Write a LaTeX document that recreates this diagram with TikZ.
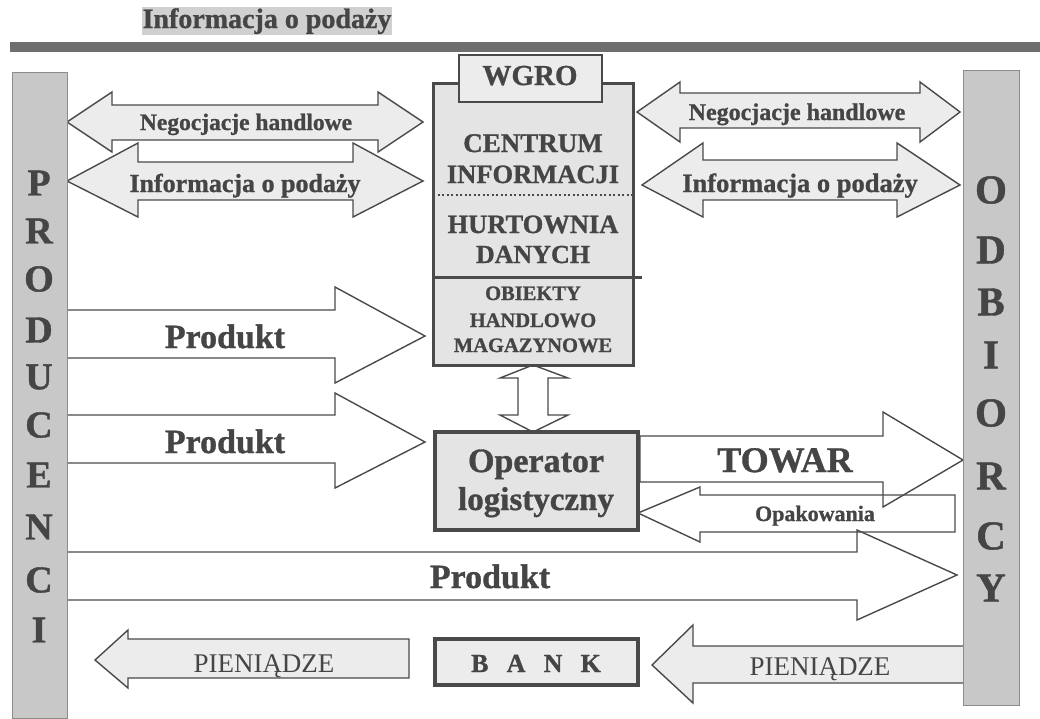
\documentclass[tikz,border=0pt]{standalone}
\usepackage{fontspec}
\setmainfont{Liberation Serif}[BoldFeatures={FakeBold=1}]
\definecolor{linec}{HTML}{4A4A4A}
\definecolor{txt}{HTML}{454545}
\definecolor{barfill}{HTML}{C8C8C8}
\definecolor{barline}{HTML}{8C8C8C}
\definecolor{arrfill}{HTML}{ECECEC}
\definecolor{boxfill}{HTML}{E4E4E4}
\definecolor{titlebg}{HTML}{D0D0D0}
\definecolor{topbarc}{HTML}{6E6E6E}
\tikzset{
 fs/.style={font=\fontsize{#1}{#1}\selectfont\bfseries},
 fsr/.style={font=\fontsize{#1}{#1}\selectfont},
 lbl/.style={text=txt, anchor=base, inner sep=0pt, outer sep=0pt},
 blk/.style={draw=linec, line width=1.4pt, line join=miter, miter limit=10},
 grayarr/.style={blk, fill=arrfill},
 bar/.style={draw=barline, fill=barfill, line width=1pt, inner sep=0pt, outer sep=0pt, anchor=north west},
 boxst/.style={draw=linec, fill=boxfill, inner sep=0pt, outer sep=0pt, anchor=north west},
 barletter/.style={text=txt, inner sep=0pt},
}
\begin{document}
\begin{tikzpicture}[x=1pt,y=-1pt]
\useasboundingbox (0,0) rectangle (1040,718);
% title and rule
\node[fill=titlebg, text=txt, fs=28, inner xsep=1pt, inner ysep=1pt, anchor=base] (title) at (267,28) {Informacja o podaży};
\node[fill=topbarc, anchor=north west, minimum width=1030pt, minimum height=10pt, inner sep=0pt] (rule) at (10,42) {};

% top-left double arrows
\draw[grayarr] (67,122) -- (112,92) -- (112,105) -- (378,105) -- (378,92) -- (423,122) -- (378,152) -- (378,140) -- (112,140) -- (112,152) -- cycle;
\draw[grayarr] (67,181) -- (138,143) -- (138,162) -- (353,162) -- (353,143) -- (423,181) -- (353,217) -- (353,200) -- (138,200) -- (138,217) -- cycle;
% top-right double arrows
\draw[grayarr] (637,112) -- (680,82) -- (680,93) -- (920,93) -- (920,82) -- (960,112) -- (920,142) -- (920,128) -- (680,128) -- (680,142) -- cycle;
\draw[grayarr] (642,185) -- (703,143) -- (703,160) -- (897,160) -- (897,143) -- (960,185) -- (897,217) -- (897,200) -- (703,200) -- (703,217) -- cycle;

% Produkt arrows to centre
\draw[blk, fill=white] (67,310) -- (335,310) -- (335,287) -- (425,336) -- (335,383) -- (335,358) -- (67,358) -- cycle;
\draw[blk, fill=white] (67,415) -- (335,415) -- (335,393) -- (425,442) -- (335,488) -- (335,463) -- (67,463) -- cycle;

% vertical double arrow
\draw[blk, fill=white] (533,365) -- (568,378) -- (548,378) -- (548,415) -- (568,415) -- (533,432) -- (500,415) -- (518,415) -- (518,378) -- (500,378) -- cycle;

% TOWAR, Opakowania, big Produkt: fills first, outlines after
\fill[white] (640,436) -- (883,436) -- (883,412) -- (963,460) -- (883,507) -- (883,482) -- (640,482) -- cycle;
\fill[white] (638,513) -- (700,487) -- (700,495) -- (955,495) -- (955,532) -- (700,532) -- (700,542) -- cycle;
\fill[white] (67,552) -- (857,552) -- (857,530) -- (957,575) -- (857,620) -- (857,600) -- (67,600) -- cycle;
\draw[blk] (640,436) -- (883,436) -- (883,412) -- (963,460) -- (883,507) -- (883,482) -- (640,482) -- cycle;
\draw[blk] (638,513) -- (700,487) -- (700,495) -- (955,495) -- (955,532) -- (700,532) -- (700,542) -- cycle;
\draw[blk] (67,552) -- (857,552) -- (857,530) -- (957,575) -- (857,620) -- (857,600) -- (67,600) -- cycle;

% PIENIADZE arrows
\draw[grayarr] (95,660) -- (128,630) -- (128,639) -- (409,639) -- (409,678) -- (128,678) -- (128,688) -- cycle;
\draw[grayarr] (652,665) -- (693,625) -- (693,646) -- (967,646) -- (967,683) -- (693,683) -- (693,703) -- cycle;

% central WGRO box
\node[boxst, line width=3pt, minimum width=200pt, minimum height=282pt] (centre) at (433,83) {};
\node[boxst, line width=1.5pt, fill=arrfill, minimum width=143pt, minimum height=47pt] (wgrobox) at (459,55) {};
\draw[linec, line width=2.5pt, dash pattern=on 2pt off 2.5pt] (centre.west |- 0,195) -- (centre.east |- 0,195);
\draw[linec, line width=3pt] (centre.west |- 0,277) -- (642,277);

% Operator and BANK boxes
\node[boxst, line width=4pt, minimum width=203pt, minimum height=98pt] (oper) at (435,432) {};
\node[boxst, line width=3.5pt, fill=arrfill, minimum width=203pt, minimum height=46pt] (bank) at (435,639) {};

% side bars
\node[bar, minimum width=55pt, minimum height=646pt] (prod) at (12,72) {};
\node[bar, minimum width=56pt, minimum height=635pt] (odb) at (963,70) {};
\foreach \ch/\yy [count=\i] in {P/183,R/231,O/279,D/330,U/377,C/425,E/475,N/527,C/580,I/630}
  \node[barletter, fs=38] (pl\i) at (39,\yy) {\ch};
\foreach \ch/\yy [count=\i] in {O/190,D/250,B/302,I/355,O/413,R/476,C/536,Y/588}
  \node[barletter, fs=41] (ol\i) at (991,\yy) {\ch};

% labels
\node[lbl, fs=23.5] (neg1) at (246,130) {Negocjacje handlowe};
\node[lbl, fs=26] (inf1) at (245,192) {Informacja o podaży};
\node[lbl, fs=24] (neg2) at (797,120) {Negocjacje handlowe};
\node[lbl, fs=26.5] (inf2) at (800,192) {Informacja o podaży};
\node[lbl, fs=29] (wgro) at (530,85) {WGRO};
\node[lbl, fs=27] (c1) at (533,152) {CENTRUM};
\node[lbl, fs=26.5] (c2) at (533,183) {INFORMACJI};
\node[lbl, fs=26.5] (c3) at (533,233) {HURTOWNIA};
\node[lbl, fs=26] (c4) at (533,263) {DANYCH};
\node[lbl, fs=20.5] (c5) at (533,300) {OBIEKTY};
\node[lbl, fs=20.5] (c6) at (533,327) {HANDLOWO};
\node[lbl, fs=20.5] (c7) at (533,352) {MAGAZYNOWE};
\node[lbl, fs=34] (op1) at (536,472) {Operator};
\node[lbl, fs=33] (op2) at (536,510) {logistyczny};
\node[lbl, fs=36] (towar) at (785,472) {TOWAR};
\node[lbl, fs=22] (opak) at (815,521) {Opakowania};
\node[lbl, fs=34] (pr1) at (225,348) {Produkt};
\node[lbl, fs=34] (pr2) at (225,453) {Produkt};
\node[lbl, fs=34] (pr3) at (490,588) {Produkt};
\node[lbl, fs=26] (banktxt) at (536,672) {B\hspace{0.7em}A\hspace{0.7em}N\hspace{0.7em}K};
\node[lbl, fsr=27] (pien1) at (264,672) {PIENIĄDZE};
\node[lbl, fsr=27] (pien2) at (820,675) {PIENIĄDZE};
\end{tikzpicture}
\end{document}
